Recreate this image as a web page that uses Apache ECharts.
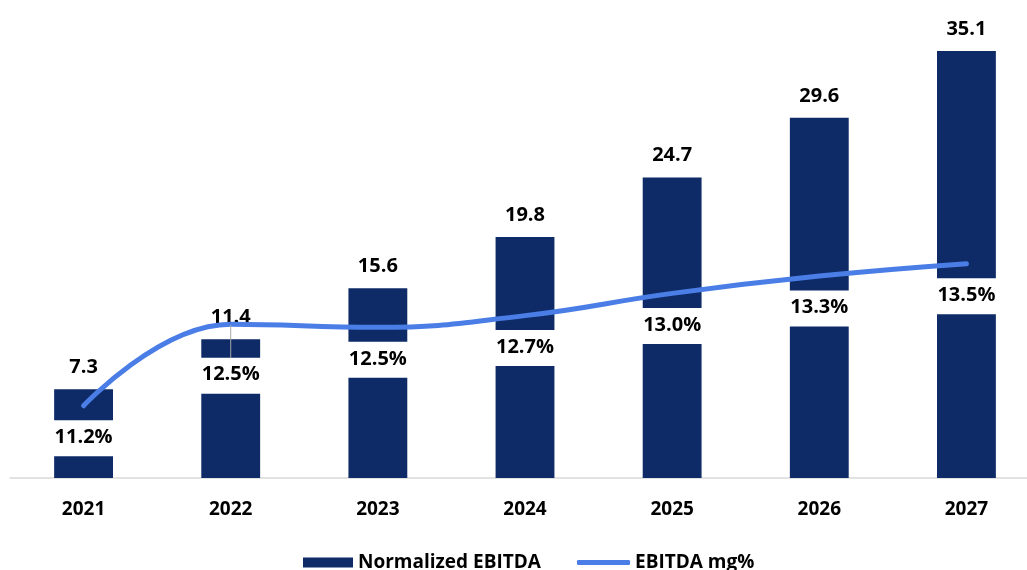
<!DOCTYPE html>
<html>
<head>
<meta charset="utf-8">
<script src="https://cdn.jsdelivr.net/npm/echarts@6/dist/echarts.min.js"></script>
<style>html,body{margin:0;padding:0;background:#fff;overflow:hidden}#c{width:1040px;height:570px}</style>
</head>
<body>
<div id="c"></div>
<script>
const years = ['2021', '2022', '2023', '2024', '2025', '2026', '2027'];
const ebitda = [7.3, 11.4, 15.6, 19.8, 24.7, 29.6, 35.1];
const marginPct = [11.2, 12.52, 12.47, 12.66, 13.02, 13.3, 13.5];

const FONT = '"Open Sans", "Noto Sans", sans-serif';
const chart = echarts.init(document.getElementById('c'));
chart.setOption({
  animation: false,
  backgroundColor: '#fff',
  textStyle: { fontFamily: FONT },
  grid: { left: 10, right: 0, top: 40, bottom: 92 },
  legend: [
    {
      data: [{ name: 'Normalized EBITDA', icon: 'rect' }],
      left: 298, top: 548, itemWidth: 50, itemHeight: 10, itemGap: 5,
      textStyle: { fontFamily: FONT, fontWeight: 'bold', fontSize: 19, color: '#000' }
    },
    {
      data: [{ name: 'EBITDA mg%', icon: 'roundRect' }],
      left: 572, top: 548, itemWidth: 53, itemHeight: 5,
      textStyle: { fontFamily: FONT, fontWeight: 'bold', fontSize: 19, color: '#000' }
    }
  ],
  xAxis: {
    type: 'category',
    data: years,
    axisLine: { show: true, lineStyle: { color: '#d9d9d9', width: 1.5 } },
    axisTick: { show: false },
    axisLabel: { color: '#000', fontWeight: 'bold', fontSize: 19, margin: 22, fontFamily: FONT }
  },
  yAxis: [
    { type: 'value', min: 0, max: 36, show: false, splitLine: { show: false } },
    { type: 'value', min: 10.03, max: 17.124, show: false, splitLine: { show: false } }
  ],
  series: [
    {
      name: 'Normalized EBITDA',
      type: 'bar',
      data: ebitda,
      barWidth: '40%',
      itemStyle: { color: '#0e2b68' },
      label: {
        show: true, position: 'top', distance: 12,
        color: '#000', fontWeight: 'bold', fontSize: 20, fontFamily: FONT,
        formatter: p => p.value.toFixed(1)
      },
      z: 2
    },
    {
      name: 'EBITDA mg%',
      type: 'line',
      yAxisIndex: 1,
      data: marginPct.map((v, i) => i === 1 ? { value: v, labelLine: { show: true, lineStyle: { color: '#a6a6a6', width: 1 } } } : v),
      smooth: 0.45,
      symbol: 'circle',
      symbolSize: 1,
      itemStyle: { color: '#4a7ee6' },
      lineStyle: { color: '#4a7ee6', width: 5, cap: 'round' },
      label: {
        show: true, position: 'bottom', distance: 14,
        color: '#000', fontWeight: 'bold', fontSize: 20, fontFamily: FONT,
        backgroundColor: '#fff', padding: [7, 4, 9, 4], width: 60, align: 'center',
        formatter: p => p.value.toFixed(1) + '%'
      },
      labelLayout: function (params) {
        if (params.dataIndex === 1) return { dy: 19 };
        return {};
      },
      z: 3
    }
  ]
});
</script>
</body>
</html>
